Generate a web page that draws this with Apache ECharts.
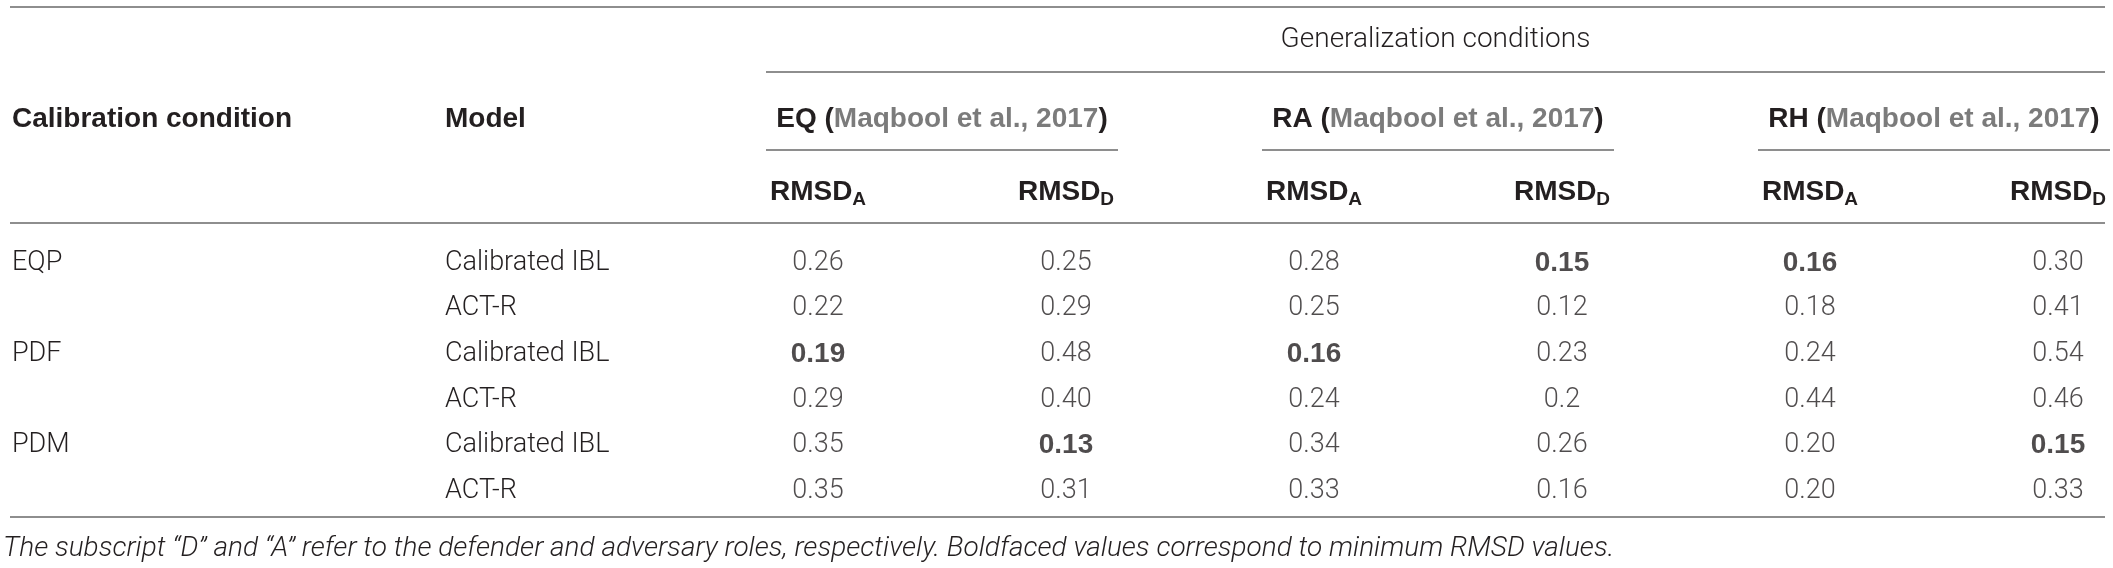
<!DOCTYPE html>
<html>
<head>
<meta charset="utf-8">
<script src="https://cdn.jsdelivr.net/npm/echarts@6/dist/echarts.min.js"></script>
<style>
  html, body { margin: 0; padding: 0; background: #fff; }
  #main { width: 2113px; height: 568px; }
</style>
</head>
<body>
<div id="main"></div>
<script>
// table content
var groups = ['EQ', 'RA', 'RH'];
var citation = 'Maqbool et al., 2017';
var roles = ['A', 'D'];
var calibConditions = ['EQP', '', 'PDF', '', 'PDM', ''];
var models = ['Calibrated IBL', 'ACT-R', 'Calibrated IBL', 'ACT-R', 'Calibrated IBL', 'ACT-R'];
// one array per row: EQ A, EQ D, RA A, RA D, RH A, RH D
var rowEQP_IBL = ['0.26', '0.25', '0.28', '0.15', '0.16', '0.30'];
var rowEQP_ACTR = ['0.22', '0.29', '0.25', '0.12', '0.18', '0.41'];
var rowPDF_IBL = ['0.19', '0.48', '0.16', '0.23', '0.24', '0.54'];
var rowPDF_ACTR = ['0.29', '0.40', '0.24', '0.2', '0.44', '0.46'];
var rowPDM_IBL = ['0.35', '0.13', '0.34', '0.26', '0.20', '0.15'];
var rowPDM_ACTR = ['0.35', '0.31', '0.33', '0.16', '0.20', '0.33'];
var rows = [rowEQP_IBL, rowEQP_ACTR, rowPDF_IBL, rowPDF_ACTR, rowPDM_IBL, rowPDM_ACTR];
// [row, column] of the boldfaced minima
var boldCells = [[0, 3], [0, 4], [2, 0], [2, 2], [4, 1], [4, 5]];
var footnote = 'The subscript \u201cD\u201d and \u201cA\u201d refer to the defender and adversary roles, respectively. Boldfaced values correspond to minimum RMSD values.';

var W = 2113;
var LIGHT = 'Roboto';
var BOLD = '"Liberation Sans", Arial, sans-serif';
var BODY = 27;
var HEAD = 28;
var TXT = '#231f20';
var GREY = '#7b7b7b';
var RULE = '#8e8e8e';

var colKeys = [];
groups.forEach(function (g) {
  roles.forEach(function (r) { colKeys.push(g + '_' + r); });
});

var cells = [];
rows.forEach(function (row, r) {
  row.forEach(function (v, c) {
    var isBold = boldCells.some(function (b) { return b[0] === r && b[1] === c; });
    cells.push({
      value: [c, r, v],
      label: isBold ? { fontFamily: BOLD, fontWeight: 'bold', fontSize: HEAD } : {}
    });
  });
});

var chart = echarts.init(document.getElementById('main'), null, { renderer: 'canvas' });

chart.setOption({
  animation: false,
  backgroundColor: '#fff',
  grid: { left: 818, right: 55, top: 263, bottom: 77 },
  xAxis: {
    type: 'category',
    data: colKeys,
    position: 'top',
    boundaryGap: false,
    axisLine: { show: false },
    axisTick: { show: false },
    splitLine: { show: false },
    axisLabel: {
      margin: 56,
      interval: 0,
      formatter: function (v) { return '{b|RMSD}{s|' + v.split('_')[1] + '}'; },
      rich: {
        b: { fontFamily: BOLD, fontWeight: 'bold', fontSize: HEAD, color: TXT, lineHeight: 30 },
        s: { fontFamily: BOLD, fontWeight: 'bold', fontSize: 19, color: TXT, padding: [16, 0, 0, 0], lineHeight: 30 }
      }
    }
  },
  yAxis: [{
    type: 'category',
    data: models,
    inverse: true,
    boundaryGap: false,
    axisLine: { show: false },
    axisTick: { show: false },
    axisLabel: { align: 'left', margin: 373, fontFamily: LIGHT, fontWeight: 300, fontSize: BODY, color: TXT, interval: 0 }
  }, {
    type: 'category',
    data: calibConditions,
    inverse: true,
    position: 'left',
    boundaryGap: false,
    axisLine: { show: false },
    axisTick: { show: false },
    axisLabel: { align: 'left', margin: 806, fontFamily: LIGHT, fontWeight: 300, fontSize: BODY, color: TXT, interval: 0 }
  }],
  series: [{
    type: 'scatter',
    symbolSize: 1,
    itemStyle: { color: 'rgba(0,0,0,0)' },
    data: cells,
    label: {
      show: true,
      position: 'inside',
      formatter: function (p) { return p.data.value[2]; },
      fontFamily: LIGHT,
      fontWeight: 300,
      fontSize: BODY,
      color: TXT
    }
  }]
});

// rules and group headers, placed from the column scale
var colX = colKeys.map(function (k) { return chart.convertToPixel({ xAxisIndex: 0 }, k); });
var halfSpan = 176;
var lineEnd = W - 8;
var graphics = [];
function rule(x1, x2, y) {
  graphics.push({ type: 'line', shape: { x1: x1, y1: y, x2: x2, y2: y }, style: { stroke: RULE, lineWidth: 2 } });
}
var genStart = (colX[0] + colX[1]) / 2 - halfSpan;
rule(10, lineEnd, 7);
rule(genStart, lineEnd, 72);
rule(10, lineEnd, 223);
rule(10, lineEnd, 517);

graphics.push({
  type: 'text', x: (genStart + lineEnd) / 2, y: 40,
  style: { text: 'Generalization conditions', fontFamily: LIGHT, fontWeight: 300, fontSize: HEAD, fill: TXT, align: 'center', verticalAlign: 'middle' }
});
groups.forEach(function (g, i) {
  var cx = (colX[2 * i] + colX[2 * i + 1]) / 2;
  graphics.push({
    type: 'text', x: cx, y: 119,
    style: {
      text: '{b|' + g + ' (}{g|' + citation + '}{b|)}',
      align: 'center', verticalAlign: 'middle',
      rich: {
        b: { fontFamily: BOLD, fontWeight: 'bold', fontSize: HEAD, fill: TXT },
        g: { fontFamily: BOLD, fontWeight: 'bold', fontSize: HEAD, fill: GREY }
      }
    }
  });
  rule(cx - halfSpan, cx + halfSpan, 150);
});
graphics.push({
  type: 'text', x: 12, y: 119,
  style: { text: 'Calibration condition', fontFamily: BOLD, fontWeight: 'bold', fontSize: HEAD, fill: TXT, verticalAlign: 'middle' }
});
graphics.push({
  type: 'text', x: 445, y: 119,
  style: { text: 'Model', fontFamily: BOLD, fontWeight: 'bold', fontSize: HEAD, fill: TXT, verticalAlign: 'middle' }
});
graphics.push({
  type: 'text', x: 3, y: 549,
  style: { text: footnote, fontFamily: LIGHT, fontWeight: 300, fontStyle: 'italic', fontSize: 28, fill: TXT, verticalAlign: 'middle' }
});
chart.setOption({ graphic: graphics });
</script>
</body>
</html>
